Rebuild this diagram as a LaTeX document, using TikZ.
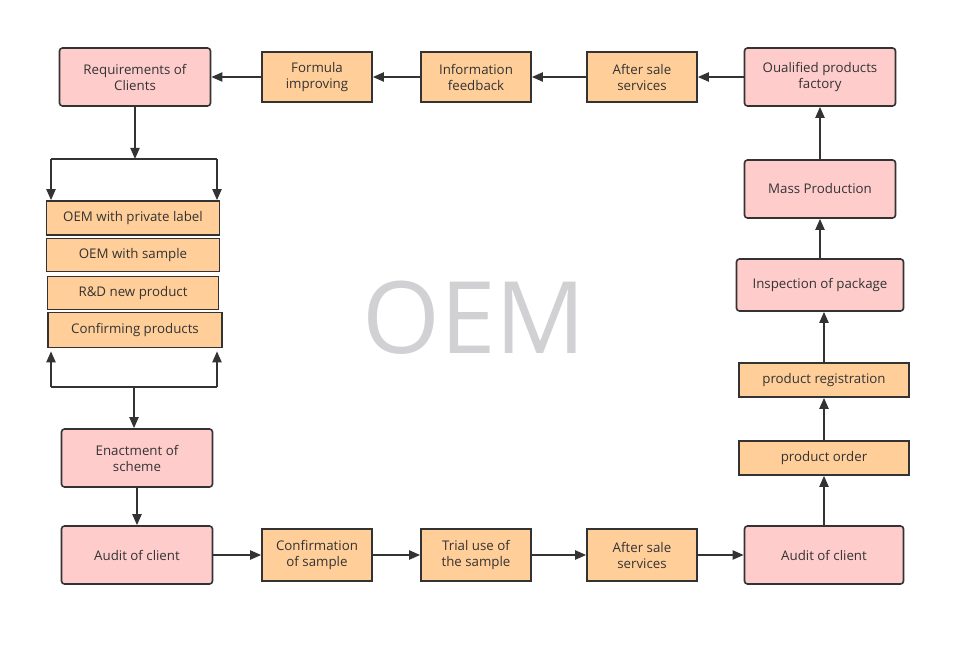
\documentclass[tikz,border=0pt]{standalone}
\usepackage{fontspec}
\setmainfont{Open Sans}
\usetikzlibrary{arrows.meta}
\definecolor{linecol}{RGB}{51,51,51}
\definecolor{pinkfill}{RGB}{255,204,204}
\definecolor{orangefill}{RGB}{255,206,153}
\definecolor{markgray}{RGB}{209,209,211}

\begin{document}
\begin{tikzpicture}[x=1pt,y=-1pt,
    box/.style={draw=linecol,line width=1.6pt,align=center,text=linecol,
        inner sep=1pt,font=\fontsize{13.3}{16}\selectfont},
    pinkbox/.style={box,fill=pinkfill,rounded corners=3pt,
        minimum width=151pt,minimum height=58pt},
    orangebox/.style={box,fill=orangefill,minimum width=110pt,minimum height=50pt},
    flatbox/.style={box,fill=orangefill,minimum height=34pt},
    arr/.style={draw=linecol,line width=2pt,-{Triangle[length=11pt,width=9pt]}},
    lin/.style={draw=linecol,line width=2pt}]
    \useasboundingbox (0,0) rectangle (971,647);
    % watermark
    \node[text=markgray,font=\fontsize{100}{100}\selectfont] (mark) at (474,318) {OEM};
    % top row
    \node[pinkbox] (req) at (135,77) {Requirements of\\Clients};
    \node[orangebox] (formula) at (317,77) {Formula\\improving};
    \node[orangebox] (info) at (476,77) {Information\\feedback};
    \node[orangebox] (aftertop) at (642,77) {After sale\\services};
    \node[pinkbox] (qualified) at (820,77) {Oualified products\\factory};
    % right column
    \node[pinkbox] (mass) at (820,189) {Mass Production};
    \node[pinkbox,minimum width=167pt,minimum height=52pt] (inspect) at (820,285) {Inspection of package};
    \node[flatbox,minimum width=170pt] (regist) at (824,380) {product registration};
    \node[flatbox,minimum width=170pt] (order) at (824,458) {product order};
    \node[pinkbox,minimum width=159pt] (auditr) at (824,555) {Audit of client};
    % bottom row
    \node[pinkbox] (auditl) at (137,555) {Audit of client};
    \node[orangebox,minimum height=52pt] (confirm) at (317,555) {Confirmation\\of sample};
    \node[orangebox,minimum height=52pt] (trial) at (476,555) {Trial use of\\the sample};
    \node[orangebox,minimum height=52pt] (afterbot) at (642,555) {After sale\\services};
    % left column
    \node[pinkbox] (enact) at (137,458) {Enactment of\\scheme};
    \node[flatbox,minimum width=173pt] (private) at (133,218) {OEM with private label};
    \node[flatbox,minimum width=173pt,minimum height=33pt] (sample) at (133,255) {OEM with sample};
    \node[flatbox,minimum width=171pt,minimum height=33pt] (rnd) at (133,293) {R\&D new product};
    \node[flatbox,minimum width=174pt,minimum height=35pt] (confprod) at (135,330) {Confirming products};
    % split and join points
    \coordinate (split) at (req.south |- 0,159);
    \coordinate (splitl) at (51,159);
    \coordinate (splitr) at (217,159);
    \coordinate (joinl) at (51,387);
    \coordinate (joinr) at (217,387);
    \coordinate (join) at (134,387);
    \draw[arr] (req) -- (split);
    \draw[lin] (splitl) -- (splitr);
    \draw[arr] (splitl) -- (splitl |- private.north);
    \draw[arr] (splitr) -- (splitr |- private.north);
    \draw[lin] (joinl) -- (joinr);
    \draw[arr] (joinl) -- ([yshift=-3pt]joinl |- confprod.south);
    \draw[arr] (joinr) -- ([yshift=-3pt]joinr |- confprod.south);
    \draw[arr] (join) -- (join |- enact.north);
    \draw[arr] (enact) -- (auditl);
    % bottom flow
    \draw[arr] (auditl) -- (confirm);
    \draw[arr] (confirm) -- (trial);
    \draw[arr] (trial) -- (afterbot);
    \draw[arr] (afterbot) -- (auditr);
    % right flow
    \draw[arr] (auditr) -- (order);
    \draw[arr] (order) -- (regist);
    \draw[arr] (regist) -- (regist |- inspect.south);
    \draw[arr] (inspect) -- (mass);
    \draw[arr] (mass) -- (qualified);
    % top flow
    \draw[arr] (qualified) -- (aftertop);
    \draw[arr] (aftertop) -- (info);
    \draw[arr] (info) -- (formula);
    \draw[arr] (formula) -- (req);
\end{tikzpicture}
\end{document}
